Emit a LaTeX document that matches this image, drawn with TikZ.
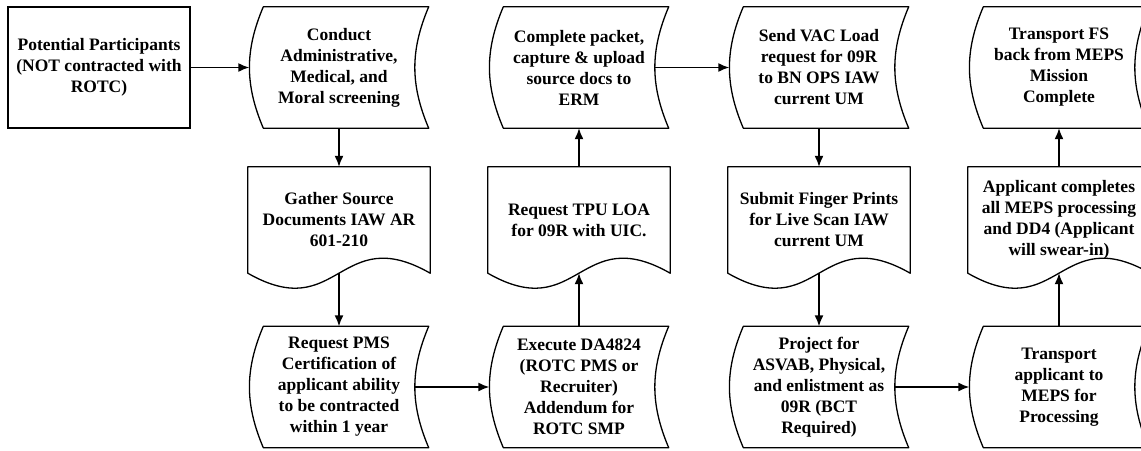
\documentclass[tikz,border=0pt]{standalone}
\usepackage{fontspec}
\setmainfont{Liberation Serif}
\usetikzlibrary{arrows.meta}

\begin{document}
\begin{tikzpicture}[>={Latex[length=11pt, width=9pt]}, node distance=240pt]
        % Cadre
        \useasboundingbox (0,0) rectangle (1141pt,-450pt);

        % Styles des noeuds
        \tikzstyle{txt} = [font=\bfseries\fontsize{17.5}{21}\selectfont, align=center, inner sep=0pt]
        \tikzstyle{process} = [txt, draw, line width=1.3pt, minimum width=182pt, minimum height=121pt]
        \tikzstyle{stored} = [txt, minimum width=179pt, minimum height=121pt]
        \tikzstyle{docshape} = [txt, minimum width=182pt, minimum height=106pt]
        \tikzstyle{contour} = [line width=1.3pt, line join=round]
        \tikzstyle{fleche} = [->, line width=1.5pt]

        % Ligne du haut
        \node[process] (potential) at (99pt,-67.5pt) {Potential Participants\\(NOT contracted with\\ROTC)};
        \node[stored] (conduct) [right of=potential] {Conduct\\Administrative,\\Medical, and\\Moral screening};
        \node[stored] (packet) [right of=conduct] {Complete packet,\\capture \& upload\\source docs to\\ERM};
        \node[stored] (vac) [right of=packet] {Send VAC Load\\request for 09R\\to BN OPS IAW\\current UM};
        \node[stored] (fsback) [right of=vac] {Transport FS\\back from MEPS\\Mission\\Complete};

        % Ligne du milieu
        \node[docshape, node distance=152.5pt, below of=conduct] (gather) {Gather Source\\Documents IAW AR\\601-210};
        \node[docshape] (tpu) [right of=gather] {Request TPU LOA\\for 09R with UIC.};
        \node[docshape] (submit) [right of=tpu] {Submit Finger Prints\\for Live Scan IAW\\current UM};
        \node[docshape] (applicant) [right of=submit] {Applicant completes\\all MEPS processing\\and DD4 (Applicant\\will swear-in)};

        % Ligne du bas
        \node[stored, node distance=167pt, below of=gather] (pms) {Request PMS\\Certification of\\applicant ability\\to be contracted\\within 1 year};
        \node[stored] (execute) [right of=pms] {Execute DA4824\\(ROTC PMS or\\Recruiter)\\Addendum for\\ROTC SMP};
        \node[stored] (project) [right of=execute] {Project for\\ASVAB, Physical,\\and enlistment as\\09R (BCT\\Required)};
        \node[stored] (meps) [right of=project] {Transport\\applicant to\\MEPS for\\Processing};

        % Contours des formes
        \foreach \n in {conduct, packet, vac, fsback, pms, execute, project, meps}
            \draw[contour] ([xshift=14pt]\n.north west) -- (\n.north east)
                to[bend right=23] (\n.south east) -- ([xshift=14pt]\n.south west)
                to[bend left=23] ([xshift=14pt]\n.north west) -- cycle;
        \foreach \n in {gather, tpu, submit, applicant}
            \draw[contour] (\n.south west) -- (\n.north west) -- (\n.north east) -- (\n.south east)
                .. controls ([xshift=-91pt, yshift=52pt]\n.south east) and ([xshift=91pt, yshift=-52pt]\n.south west) .. (\n.south west) -- cycle;

        % Fleches
        \draw[fleche] (potential) -- (conduct);
        \draw[fleche] (conduct.south) -- (gather.north);
        \draw[fleche] (gather.south) -- (pms.north);
        \draw[fleche] ([xshift=-14pt]pms.east) -- (execute.west);
        \draw[fleche] (execute.north) -- (tpu.south);
        \draw[fleche] (tpu.north) -- (packet.south);
        \draw[fleche] ([xshift=-14pt]packet.east) -- (vac.west);
        \draw[fleche] (vac.south) -- (submit.north);
        \draw[fleche] (submit.south) -- (project.north);
        \draw[fleche] ([xshift=-14pt]project.east) -- (meps.west);
        \draw[fleche] (meps.north) -- (applicant.south);
        \draw[fleche] (applicant.north) -- (fsback.south);

    \end{tikzpicture}
\end{document}
